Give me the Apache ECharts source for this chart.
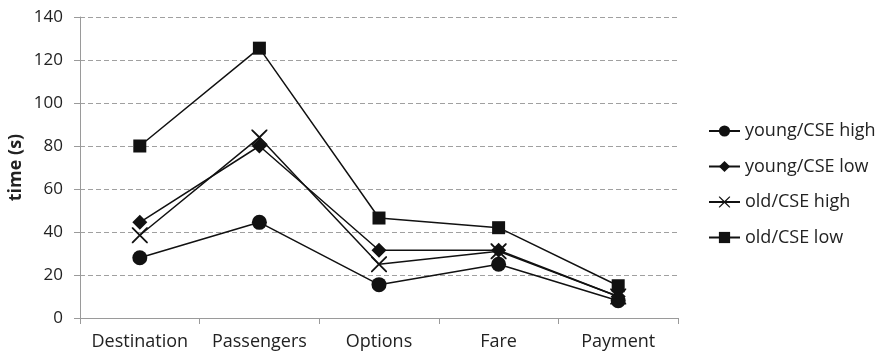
<!DOCTYPE html>
<html>
<head>
<meta charset="utf-8">
<script src="https://cdn.jsdelivr.net/npm/echarts@6/dist/echarts.min.js"></script>
<style>
html,body{margin:0;padding:0;background:#fff;}
#chart{width:879px;height:357px;}
</style>
</head>
<body>
<div id="chart"></div>
<script>
// Task steps along the x axis
const categories = ['Destination', 'Passengers', 'Options', 'Fare', 'Payment'];

// Mean completion time (s) per user group
const youngHigh = [28, 44.5, 15.5, 25, 8];
const youngLow  = [44.5, 80, 31.5, 31.5, 10];
const oldHigh   = [38.5, 84, 25, 31, 10];
const oldLow    = [80, 125.5, 46.5, 42, 15];

const yTicks = { min: 0, max: 140, interval: 20 };

const seriesNames = ['young/CSE high', 'young/CSE low', 'old/CSE high', 'old/CSE low'];

// Cross drawn as a thin filled outline so it renders like a stroked "x"
const crossPath = 'path://M0,0L1.6,0L10,8.4L18.4,0L20,0L20,1.6L11.6,10L20,18.4L20,20L18.4,20L10,11.6L1.6,20L0,20L0,18.4L8.4,10L0,1.6Z';

const markers = [
  { symbol: 'circle', size: 15 },
  { symbol: 'diamond', size: 15 },
  { symbol: crossPath, size: 16 },
  { symbol: 'rect', size: 13 }
];

const values = [youngHigh, youngLow, oldHigh, oldLow];

const font = '"Open Sans", Lato, sans-serif';

const chart = echarts.init(document.getElementById('chart'), null, { renderer: 'canvas' });

chart.setOption({
  animation: false,
  backgroundColor: '#fff',
  grid: { left: 80, right: 201, top: 17, bottom: 39, containLabel: false, outerBoundsMode: 'none' },
  legend: {
    orient: 'vertical',
    left: 703,
    top: 117,
    itemWidth: 31,
    itemHeight: 14,
    itemGap: 17.5,
    textStyle: { fontFamily: font, fontSize: 18, lineHeight: 18, color: '#222', padding: [0, 0, 0, 0] },
    data: seriesNames
  },
  xAxis: {
    type: 'category',
    data: categories,
    boundaryGap: true,
    axisLine: { lineStyle: { color: '#9a9a9a', width: 1 } },
    axisTick: { show: true, length: 6, lineStyle: { color: '#9a9a9a' }, alignWithLabel: false },
    axisLabel: { fontFamily: font, fontSize: 18, color: '#222', margin: 15, interval: 0, hideOverlap: false },
    splitLine: { show: false }
  },
  yAxis: {
    type: 'value',
    min: yTicks.min,
    max: yTicks.max,
    interval: yTicks.interval,
    name: 'time (s)',
    nameLocation: 'middle',
    nameGap: 55,
    nameMoveOverlap: false,
    nameTextStyle: { fontFamily: font, fontSize: 18, fontWeight: 'bold', color: '#222' },
    axisLine: { show: true, lineStyle: { color: '#9a9a9a', width: 1 } },
    axisTick: { show: true, length: 6, lineStyle: { color: '#9a9a9a' } },
    axisLabel: { fontFamily: font, fontSize: 17, color: '#222', margin: 17 },
    splitLine: { show: true, lineStyle: { color: '#a0a0a0', type: [5, 3], width: 1 } }
  },
  series: seriesNames.map((name, i) => ({
    name: name,
    type: 'line',
    data: values[i],
    symbol: markers[i].symbol,
    symbolSize: markers[i].size,
    showSymbol: true,
    lineStyle: { color: '#111', width: 1.5 },
    itemStyle: { color: '#111', borderWidth: 0 },
    emphasis: { disabled: true },
    z: 2 + i
  }))
});
</script>
</body>
</html>
